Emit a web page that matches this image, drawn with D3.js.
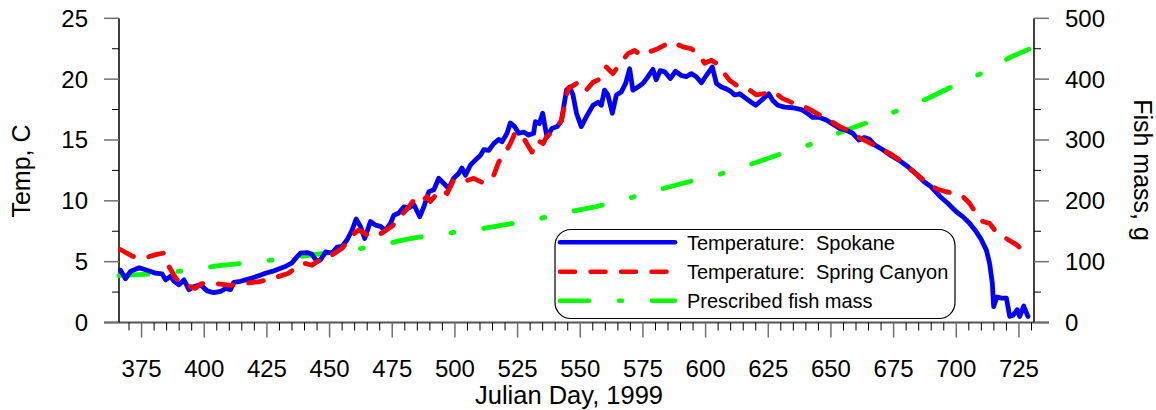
<!DOCTYPE html>
<html>
<head>
<meta charset="utf-8">
<script src="https://cdn.jsdelivr.net/npm/d3@7"></script>
<style>
  html, body { margin: 0; padding: 0; background: #fff; }
  svg { display: block; }
  text { font-family: "Liberation Sans", Arial, sans-serif; fill: #000; }
</style>
</head>
<body>
<svg id="chart" width="1156" height="410"></svg>
<script>
// ---------------- data ----------------
const spokaneDay = [366.6,368.6,370.6,374,377.2,380.6,383.2,384.6,386.6,387.9,389.9,391.9,393.9,395.9,398.5,401.2,403.8,406.5,408.5,410.5,411.8,413.8,416.5,419.1,421.8,424.4,427.1,429.7,432.4,435,437,438.4,441,443,445,446.4,448.4,451,453,455,457,459,460.6,462.3,464,466.3,468.3,470.3,472.3,474.3,475.6,477.6,479.6,481.6,483.6,486,487.6,489.6,491.6,493.5,495.5,497.5,499.5,501.5,502.8,504.2,506.2,508.2,510.2,511.5,513.5,515.5,517.5,518.8,520.8,522.1,523.8,525.4,527.4,529.4,531.4,532.1,533.7,535,536.7,538.7,540.8,542.5,544.5,545.8,547.1,548.5,550.4,552.4,555.1,557.1,558.4,559.7,561,562.8,564.4,566.4,568.1,569.7,571,573,575,577,579,580.3,581.9,583.7,585.9,588,590.3,592.3,594.3,596.3,598.3,600.3,602.7,604.3,606.3,608.3,610.3,611.6,613.6,616.2,618.2,620,622.2,625.2,626.8,628.8,631.5,634.8,638.2,640.2,642.8,645.5,648.1,650.8,653.5,656.1,658.7,661.1,663.4,665.4,667.4,670.7,674.1,677.4,680.7,684,687.3,690,693.3,696.6,700,702.6,705.3,708,710,712,713.3,714.4,714.9,716.2,718,720,721.3,722.7,724.3,725.3,726.9,728.6];
const spokaneTemp = [4.3,3.6,4.2,4.5,4.3,4.05,4.0,3.5,3.8,3.4,3.1,3.5,2.7,2.95,3.1,2.6,2.45,2.55,2.8,2.7,3.3,3.35,3.5,3.65,3.85,4.05,4.2,4.4,4.6,4.9,5.4,5.7,5.75,5.6,5.0,5.15,5.8,5.7,6.2,6.25,6.8,7.6,8.5,7.9,6.9,8.3,8.0,7.9,7.55,8.15,8.8,9.0,9.5,9.4,9.7,8.7,9.5,10.75,10.9,11.85,11.45,11.0,11.85,12.25,12.7,12.1,12.95,13.35,13.75,14.2,14.15,14.7,15.05,14.85,15.55,16.4,16.1,15.55,15.65,15.4,15.55,16.5,16.35,17.2,15.25,15.95,16.1,16.6,19.1,19.35,18.7,17.2,16.1,16.9,17.85,18.1,17.85,19.1,18.7,17.2,18.7,18.95,19.65,20.85,19.1,19.35,19.65,20.2,20.8,19.95,20.7,20.6,20.05,20.65,20.3,20.2,20.45,20.2,19.7,20.3,21.0,19.65,19.35,19.2,18.95,18.7,18.8,18.4,18.1,17.85,18.25,18.8,18.25,17.85,17.7,17.65,17.5,17.25,16.85,16.85,16.65,16.3,15.95,15.8,15.55,15.0,15.2,15.05,14.6,14.2,13.7,13.3,12.8,12.2,11.55,11.15,10.4,9.8,9.1,8.7,8.15,7.45,6.8,5.95,4.85,3.2,1.3,2.1,2.0,2.0,0.5,0.6,1.05,0.5,1.35,0.5];

const canyonDay = [366.5,371.3,374.5,377.9,381,383.9,385.9,388.6,391.9,394.4,396.3,399,404.5,410.5,415.8,421.8,427.8,433.7,437.7,440.4,443,447,451,455,457.7,459.7,461.6,465,468.3,471.6,474.9,477.6,481.6,483.6,486.2,488.9,490.2,494.2,496.9,499.5,502.8,507.5,511.5,515.5,517.5,520.2,522.1,524.1,527.4,530.7,532.7,535.2,536.5,539.8,542.5,545.1,548.5,551.8,555.1,558.4,560.4,563,566.4,569,571.7,574.4,577.7,581,583.7,586.3,588.3,591,594.3,597.6,599.6,602.3,604.3,606.9,609.6,612.3,614.9,617.6,620.3,622.9,625.5,628.2,630.8,634.8,638.8,642.1,645.5,649.5,653.5,656.8,660.8,664.7,668.7,673.4,677.4,681.4,685.3,688.6,692.6,695.9,699.2,702.6,705.3,707.9,710.6,713.3,715.3,718,720.7,724,728.6];
const canyonTemp = [6.0,5.45,5.3,5.4,5.6,5.7,4.6,3.65,2.95,2.95,2.8,3.2,3.2,3.05,3.2,3.35,3.65,4.05,4.7,4.85,4.7,5.3,5.55,6.1,6.8,7.3,7.6,7.2,7.05,7.45,7.9,8.55,9.5,10.05,9.8,10.35,9.95,10.9,10.6,11.7,11.55,11.85,11.45,12.1,13.2,14.0,14.7,15.65,15.15,14.0,15.0,14.7,15.25,15.8,16.6,19.2,19.65,18.95,19.75,20.05,21.0,20.45,21.4,22.1,22.35,21.95,22.25,22.5,22.8,22.65,22.9,22.65,22.5,21.95,21.3,21.55,21.3,20.6,19.9,19.5,19.25,19.1,18.7,18.8,18.95,18.8,18.4,18.05,17.8,17.45,17.05,16.6,16.1,15.8,15.25,14.85,14.4,13.9,13.35,12.65,12.0,11.4,10.95,10.75,10.6,10.35,9.8,8.95,8.3,8.15,7.6,7.2,6.8,6.4,5.55];

const massDay = [366,380,392,405,417,430,443,455,468,481,493,506,519,531,543,556,566,581,593,606,618,630,642,654,666,677,689,701,712,722,729];
const massG   = [77,80,85,93,98,104,111,117,125,137,145,151,160,168,180,190,200,218,231,244,260,277,293,313,331,349,369,393,413,437,449];

const xMajorTicks = [375,400,425,450,475,500,525,550,575,600,625,650,675,700,725];
const tempTicks = [0,5,10,15,20,25];
const massTicks = [0,100,200,300,400,500];

const seriesNames = ["Temperature:  Spokane", "Temperature:  Spring Canyon", "Prescribed fish mass"];
const seriesColors = ["#0000ff", "#ff0000", "#00ff00"];
const seriesDash = [null, "15,15.5", "29,30,3,30"];

const xTitle = "Julian Day, 1999";
const yLeftTitle = "Temp, C";
const yRightTitle = "Fish mass, g";

// ---------------- layout ----------------
const X0 = 119, X1 = 1034, Y0 = 322.5, Y1 = 18.3;
const svg = d3.select("#chart");

const x = d3.scaleLinear().domain([366, 731]).range([X0, X1]);
const yT = d3.scaleLinear().domain([0, 25]).range([Y0, Y1]);
const yM = d3.scaleLinear().domain([0, 500]).range([Y0, Y1]);

const majorColor = "#707070";

// bottom axis: baseline extends beyond plot
svg.append("line").attr("x1", 104).attr("x2", 1049).attr("y1", Y0).attr("y2", Y0)
  .attr("stroke", "#555").attr("stroke-width", 2);

// x ticks
const xMinor = d3.range(370, 731, 5).filter(d => xMajorTicks.indexOf(d) < 0);
const gx = svg.append("g");
gx.selectAll("line.minor").data(xMinor).enter().append("line")
  .attr("x1", d => x(d)).attr("x2", d => x(d)).attr("y1", Y0).attr("y2", Y0 + 8)
  .attr("stroke", "#000").attr("stroke-width", 1);
gx.selectAll("line.major").data(xMajorTicks).enter().append("line")
  .attr("x1", d => x(d)).attr("x2", d => x(d)).attr("y1", Y0).attr("y2", Y0 + 15)
  .attr("stroke", majorColor).attr("stroke-width", 1.5);
gx.selectAll("text").data(xMajorTicks).enter().append("text")
  .attr("x", d => x(d)).attr("y", 377).attr("text-anchor", "middle")
  .attr("font-size", 24).text(d => d);

// left axis
const gl = svg.append("g");
gl.append("line").attr("x1", X0).attr("x2", X0).attr("y1", Y1).attr("y2", Y0)
  .attr("stroke", "#000").attr("stroke-width", 1.5);
const tMinor = d3.range(2.5, 25, 5);
gl.selectAll("line.minor").data(tMinor).enter().append("line")
  .attr("x1", X0 - 7).attr("x2", X0).attr("y1", d => yT(d)).attr("y2", d => yT(d))
  .attr("stroke", "#000").attr("stroke-width", 1);
gl.selectAll("line.major").data(tempTicks).enter().append("line")
  .attr("x1", X0 - 15).attr("x2", X0).attr("y1", d => yT(d)).attr("y2", d => yT(d))
  .attr("stroke", majorColor).attr("stroke-width", 1.5);
gl.selectAll("text").data(tempTicks).enter().append("text")
  .attr("x", 88).attr("y", d => yT(d) + 8.5).attr("text-anchor", "end")
  .attr("font-size", 24).text(d => d);

// right axis
const gr = svg.append("g");
gr.append("line").attr("x1", X1).attr("x2", X1).attr("y1", Y1).attr("y2", Y0)
  .attr("stroke", "#000").attr("stroke-width", 1.5);
const mMinor = d3.range(50, 500, 100);
gr.selectAll("line.minor").data(mMinor).enter().append("line")
  .attr("x1", X1).attr("x2", X1 + 7).attr("y1", d => yM(d)).attr("y2", d => yM(d))
  .attr("stroke", "#000").attr("stroke-width", 1);
gr.selectAll("line.major").data(massTicks).enter().append("line")
  .attr("x1", X1).attr("x2", X1 + 15).attr("y1", d => yM(d)).attr("y2", d => yM(d))
  .attr("stroke", majorColor).attr("stroke-width", 1.5);
gr.selectAll("text").data(massTicks).enter().append("text")
  .attr("x", 1065).attr("y", d => yM(d) + 8.5).attr("text-anchor", "start")
  .attr("font-size", 24).text(d => d);

// titles
svg.append("text").attr("x", 569).attr("y", 404).attr("text-anchor", "middle")
  .attr("font-size", 25.5).text(xTitle);
svg.append("text").attr("transform", "translate(30,171) rotate(-90)")
  .attr("text-anchor", "middle").attr("font-size", 25).text(yLeftTitle);
svg.append("text").attr("transform", "translate(1134,170) rotate(90)")
  .attr("text-anchor", "middle").attr("font-size", 25).text(yRightTitle);

// ---------------- series ----------------
const lineT = d3.line().x(d => x(d[0])).y(d => yT(d[1])).curve(d3.curveLinear);
const lineM = d3.line().x(d => x(d[0])).y(d => yM(d[1])).curve(d3.curveLinear);

const massData = massDay.map((d, i) => [d, massG[i]]);
const spokaneData = spokaneDay.map((d, i) => [d, spokaneTemp[i]]);
const canyonData = canyonDay.map((d, i) => [d, canyonTemp[i]]);

const gs = svg.append("g").attr("fill", "none").attr("stroke-linecap", "round").attr("stroke-linejoin", "round");
gs.append("path").attr("d", lineM(massData)).attr("stroke", seriesColors[2])
  .attr("stroke-width", 4.8).attr("stroke-dasharray", seriesDash[2]);
gs.append("path").attr("d", lineT(spokaneData)).attr("stroke", seriesColors[0])
  .attr("stroke-width", 4.8);
gs.append("path").attr("d", lineT(canyonData)).attr("stroke", seriesColors[1])
  .attr("stroke-width", 4.8).attr("stroke-dasharray", seriesDash[1]);

// ---------------- legend ----------------
const lg = svg.append("g");
lg.append("rect").attr("x", 555).attr("y", 229.5).attr("width", 400).attr("height", 89)
  .attr("rx", 16).attr("ry", 16).attr("fill", "#fff").attr("stroke", "#000").attr("stroke-width", 1.2);
const rowY = [242.3, 271.7, 300.7];
seriesNames.forEach((name, i) => {
  lg.append("line").attr("x1", 560).attr("x2", 675).attr("y1", rowY[i]).attr("y2", rowY[i])
    .attr("stroke", seriesColors[i]).attr("stroke-width", 4.5).attr("stroke-linecap", "round")
    .attr("stroke-dasharray", seriesDash[i]);
  lg.append("text").attr("x", 687).attr("y", rowY[i] + 7.5).attr("font-size", 20)
    .style("white-space", "pre").text(name);
});
</script>
</body>
</html>
